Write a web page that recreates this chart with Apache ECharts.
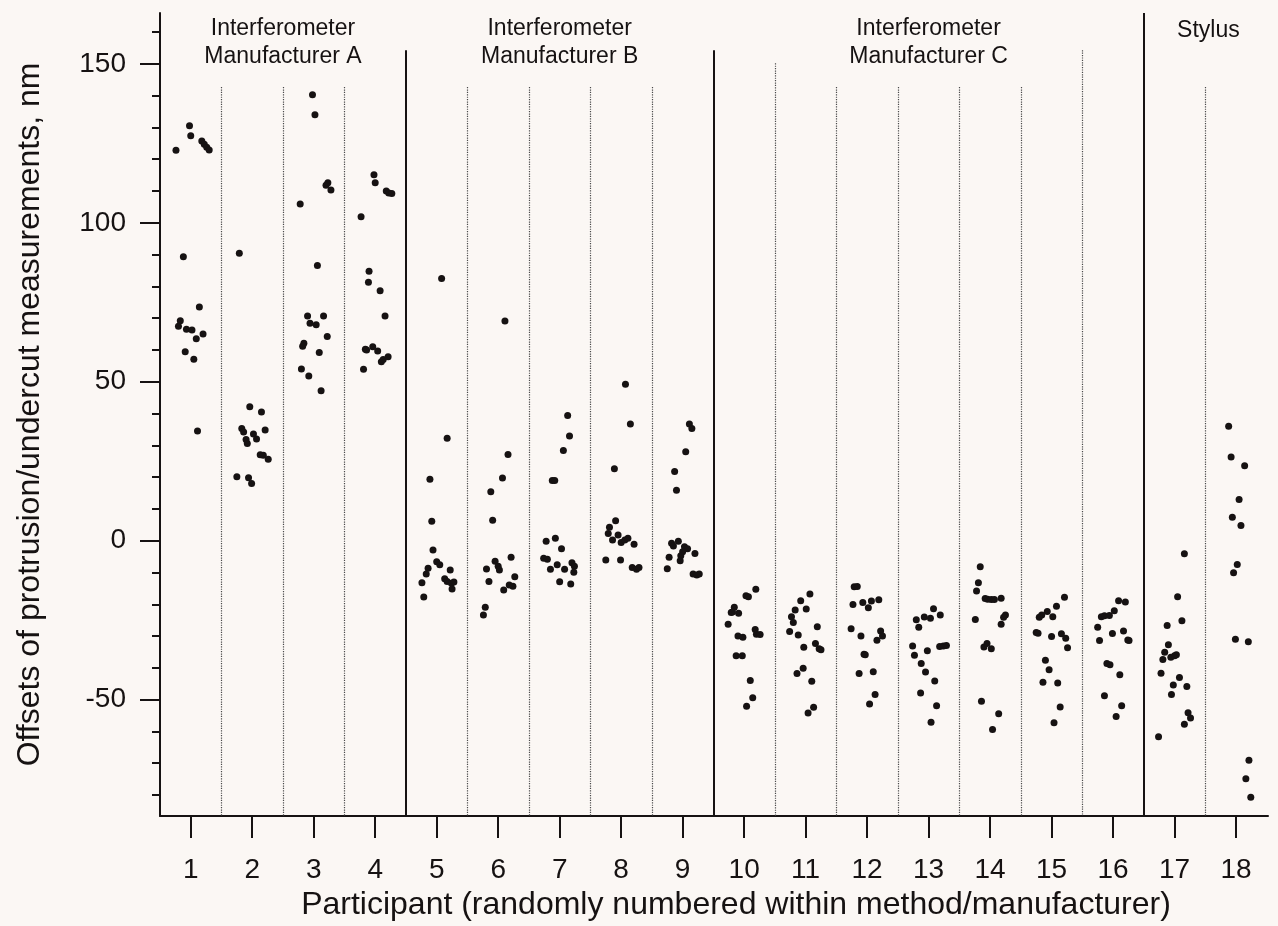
<!DOCTYPE html>
<html>
<head>
<meta charset="utf-8">
<script src="https://cdn.jsdelivr.net/npm/echarts@6/dist/echarts.min.js"></script>
<style>
  html, body { margin: 0; padding: 0; background: #fbf7f4; }
  #chart { width: 1278px; height: 926px; }
</style>
</head>
<body>
<div id="chart"></div>
<script>
// tick values
const participants = [1, 2, 3, 4, 5, 6, 7, 8, 9, 10, 11, 12, 13, 14, 15, 16, 17, 18];
const yTicks = [-50, 0, 50, 100, 150];
const Y_MIN = -86.6;
const Y_MAX = 166;

// measurements per participant: [participant + jitter, offset in nm]
const p1 = [[0.76, 122.8], [0.98, 130.5], [1.0, 127.4], [1.18, 125.7], [1.22, 124.7], [1.26, 123.8], [1.3, 122.9], [0.88, 89.3], [1.14, 73.5], [0.83, 69.2], [0.8, 67.5], [0.93, 66.5], [1.02, 66.3], [1.2, 65.0], [1.09, 63.5], [0.91, 59.4], [1.05, 57.1], [1.11, 34.5]];
const p2 = [[1.79, 90.4], [1.96, 42.1], [2.15, 40.5], [1.83, 35.3], [1.86, 34.2], [2.21, 34.8], [1.9, 31.8], [1.92, 30.6], [2.02, 33.6], [2.07, 32.0], [2.13, 27.0], [2.18, 26.9], [2.26, 25.6], [1.75, 20.1], [1.94, 19.8], [1.99, 18.0]];
const p3 = [[2.98, 140.3], [3.02, 134.0], [3.23, 112.6], [3.2, 111.8], [3.28, 110.3], [2.78, 105.9], [3.06, 86.6], [2.9, 70.7], [3.16, 70.7], [2.94, 68.4], [3.04, 67.9], [3.22, 64.2], [2.84, 62.1], [2.82, 61.2], [3.09, 59.2], [2.8, 54.0], [2.92, 51.8], [3.12, 47.2]];
const p4 = [[3.98, 115.1], [4.0, 112.6], [4.18, 110.0], [4.22, 109.4], [4.27, 109.2], [3.77, 101.9], [3.9, 84.8], [3.89, 81.3], [4.08, 78.6], [4.16, 70.7], [3.81, 53.9], [3.84, 60.2], [3.86, 60.0], [3.96, 61.0], [4.04, 59.7], [4.1, 56.3], [4.13, 57.0], [4.21, 57.9]];
const p5 = [[5.08, 82.5], [5.17, 32.2], [4.89, 19.3], [4.92, 6.1], [4.94, -2.9], [5.0, -6.6], [5.05, -7.6], [4.86, -8.7], [4.83, -10.5], [4.76, -13.2], [4.79, -17.7], [5.22, -9.2], [5.13, -12.0], [5.17, -12.8], [5.24, -13.4], [5.28, -13.0], [5.25, -15.2]];
const p6 = [[6.11, 69.1], [6.16, 27.1], [6.07, 19.7], [5.88, 15.4], [5.91, 6.4], [6.21, -5.2], [5.95, -6.5], [6.0, -8.0], [6.02, -9.2], [5.81, -8.9], [5.85, -12.8], [6.27, -11.3], [6.18, -13.9], [6.24, -14.3], [6.09, -15.5], [5.79, -20.9], [5.76, -23.4]];
const p7 = [[7.13, 39.4], [7.16, 32.9], [7.06, 28.4], [6.88, 18.9], [6.92, 18.9], [6.78, -0.2], [6.93, 0.8], [7.03, -2.5], [6.74, -5.5], [6.8, -5.8], [6.96, -7.6], [6.85, -9.0], [7.08, -9.0], [7.2, -6.9], [7.24, -8.0], [7.23, -9.9], [7.0, -12.9], [7.18, -13.6]];
const p8 = [[8.07, 49.2], [8.15, 36.7], [7.89, 22.6], [7.91, 6.3], [7.81, 4.2], [7.79, 2.3], [7.95, 1.8], [7.86, 0.2], [8.0, -0.6], [8.06, 0.2], [8.11, 0.8], [8.21, -1.1], [7.75, -6.1], [7.99, -6.1], [8.18, -8.4], [8.25, -9.0], [8.29, -8.4]];
const p9 = [[9.11, 36.7], [9.15, 35.3], [9.05, 28.0], [8.87, 21.8], [8.9, 15.9], [8.82, -0.8], [8.85, -1.7], [8.93, -0.2], [9.03, -1.9], [9.08, -2.5], [9.0, -3.5], [8.97, -4.7], [9.2, -4.0], [8.78, -5.2], [8.96, -6.3], [8.75, -8.8], [9.17, -10.5], [9.23, -10.8], [9.27, -10.5]];
const p10 = [[10.19, -15.3], [10.03, -17.3], [10.07, -17.6], [9.84, -20.9], [9.79, -22.6], [9.81, -22.4], [9.91, -22.8], [9.74, -26.3], [10.18, -27.9], [10.2, -29.4], [10.26, -29.5], [9.9, -30.0], [9.98, -30.4], [9.87, -36.2], [9.97, -36.2], [10.1, -44.0], [10.14, -49.4], [10.04, -52.1]];
const p11 = [[11.07, -16.8], [10.92, -18.9], [11.01, -21.5], [10.83, -21.8], [10.77, -23.9], [10.8, -25.7], [10.74, -28.6], [10.88, -29.7], [11.19, -27.1], [11.16, -32.3], [11.22, -34.0], [11.25, -34.3], [10.97, -33.5], [10.96, -40.1], [10.86, -41.8], [11.1, -44.2], [11.13, -52.4], [11.04, -54.2]];
const p12 = [[11.79, -14.5], [11.84, -14.4], [11.77, -20.1], [11.93, -19.4], [12.02, -21.1], [12.07, -19.0], [12.19, -18.6], [11.74, -27.7], [11.9, -30.0], [12.22, -28.4], [12.25, -30.0], [12.16, -31.3], [11.95, -35.7], [11.97, -35.9], [11.87, -41.8], [12.1, -41.2], [12.13, -48.4], [12.04, -51.4]];
const p13 = [[13.08, -21.4], [12.8, -24.9], [12.93, -24.0], [13.03, -24.4], [13.19, -23.4], [12.84, -27.2], [12.74, -33.1], [12.77, -36.0], [12.98, -34.6], [13.18, -33.3], [13.24, -33.1], [13.29, -33.0], [12.88, -38.6], [12.95, -41.3], [13.1, -44.1], [12.87, -47.9], [13.13, -51.9], [13.04, -57.1]];
const p14 = [[13.84, -8.2], [13.81, -13.2], [13.78, -15.8], [13.92, -18.2], [13.96, -18.4], [14.02, -18.5], [14.07, -18.5], [14.18, -18.1], [13.76, -24.8], [14.25, -23.4], [14.22, -24.1], [14.18, -26.3], [13.9, -33.4], [13.95, -32.3], [14.02, -34.0], [13.86, -50.5], [14.14, -54.4], [14.04, -59.4]];
const p15 = [[15.21, -17.8], [15.08, -20.6], [14.93, -22.3], [15.02, -23.9], [14.84, -23.4], [14.8, -24.1], [14.75, -28.9], [14.78, -29.1], [15.0, -30.1], [15.16, -29.3], [15.23, -30.7], [15.26, -33.7], [14.9, -37.6], [14.96, -40.6], [14.86, -44.5], [15.1, -44.8], [15.14, -52.3], [15.04, -57.3]];
const p16 = [[16.09, -18.9], [16.2, -19.3], [16.02, -22.0], [15.81, -23.9], [15.86, -23.6], [15.94, -23.5], [15.75, -27.2], [15.78, -31.4], [15.99, -29.2], [16.17, -28.4], [16.24, -31.2], [16.26, -31.4], [15.9, -38.6], [15.95, -39.0], [16.11, -42.2], [15.86, -48.8], [16.14, -51.9], [16.05, -55.3]];
const p17 = [[17.16, -4.1], [17.05, -17.6], [17.12, -25.2], [16.88, -26.7], [16.9, -32.7], [16.84, -35.1], [16.81, -37.4], [16.94, -36.7], [17.0, -36.2], [17.03, -35.9], [16.78, -41.7], [17.08, -43.0], [16.98, -45.4], [17.2, -45.9], [16.95, -48.4], [17.22, -54.1], [17.26, -55.8], [17.16, -57.7], [16.74, -61.7]];
const p18 = [[17.88, 36.0], [17.92, 26.3], [18.14, 23.6], [18.05, 13.0], [17.94, 7.4], [18.08, 4.8], [18.02, -7.5], [17.96, -10.1], [17.99, -31.0], [18.2, -31.8], [18.21, -69.1], [18.16, -74.9], [18.24, -80.7]];
const allPoints = [p1, p2, p3, p4, p5, p6, p7, p8, p9, p10, p11, p12, p13, p14, p15, p16, p17, p18];

// method / manufacturer groups
const groupNames = ['Interferometer\nManufacturer A', 'Interferometer\nManufacturer B', 'Interferometer\nManufacturer C', 'Stylus'];
const groupCenters = [2.5, 7, 13, 17.55];
const groupLabelY = [156.6, 156.6, 156.6, 160.6];

// separators between groups (solid) and between participants (dotted)
const solidSeps = [4.5, 9.5, 16.5];
const solidTops = [154.3, 154.3, Y_MAX];
const dottedSeps = [1.5, 2.5, 3.5, 5.5, 6.5, 7.5, 8.5, 10.5, 11.5, 12.5, 13.5, 14.5, 15.5, 17.5];
const dottedTops = [142.7, 142.7, 142.7, 142.7, 142.7, 142.7, 142.7, 150.2, 142.7, 142.7, 142.7, 142.7, 154.3, 142.7];

const ink = '#161212';
const font = '"Liberation Sans", Arial, sans-serif';

const chart = echarts.init(document.getElementById('chart'));

const sepLines = [
  ...solidSeps.map((x, i) => [
    { coord: [x, solidTops[i]], lineStyle: { type: 'solid', width: 2, color: ink } },
    { coord: [x, Y_MIN] },
  ]),
  ...dottedSeps.map((x, i) => [
    { coord: [x, dottedTops[i]], lineStyle: { type: 'dotted', width: 1.2, color: '#4a4a4a' } },
    { coord: [x, Y_MIN] },
  ]),
];

chart.setOption({
  backgroundColor: '#fbf7f4',
  animation: false,
  textStyle: { fontFamily: font },
  grid: { left: 160, right: 10, top: 13, bottom: 110, containLabel: false },
  xAxis: {
    type: 'value',
    min: 0.5,
    max: 18.52,
    axisLine: { show: true, onZero: false, lineStyle: { color: ink, width: 2 } },
    axisTick: { show: true, customValues: participants, length: 22, lineStyle: { color: ink, width: 2 } },
    axisLabel: { customValues: participants, margin: 40, fontSize: 28, color: ink, fontFamily: font },
    splitLine: { show: false },
    name: 'Participant (randomly numbered within method/manufacturer)',
    nameLocation: 'middle',
    nameGap: 70,
    nameTextStyle: { fontSize: 32, color: ink, fontFamily: font, padding: [0, 0, 0, 44] },
  },
  yAxis: {
    type: 'value',
    min: Y_MIN,
    max: Y_MAX,
    splitNumber: 5,
    axisLine: { show: true, onZero: false, lineStyle: { color: ink, width: 2 } },
    axisTick: { show: true, customValues: yTicks, length: 20, lineStyle: { color: ink, width: 2 } },
    minorTick: { show: true, splitNumber: 5, length: 8, lineStyle: { color: ink, width: 2 } },
    axisLabel: { customValues: yTicks, margin: 34, fontSize: 28, color: ink, fontFamily: font },
    splitLine: { show: false },
    minorSplitLine: { show: false },
    name: 'Offsets of protrusion/undercut measurements, nm',
    nameLocation: 'middle',
    nameGap: 114,
    nameTextStyle: { fontSize: 32, color: ink, fontFamily: font },
  },
  series: [
    {
      type: 'scatter',
      data: allPoints.flat(),
      symbol: 'circle',
      symbolSize: 7,
      itemStyle: { color: ink, opacity: 1 },
      silent: true,
      markLine: {
        silent: true,
        symbol: ['none', 'none'],
        label: { show: false },
        data: sepLines,
      },
    },
    {
      type: 'scatter',
      symbolSize: 0,
      silent: true,
      itemStyle: { opacity: 1 },
      data: groupNames.map((name, i) => ({ name, value: [groupCenters[i], groupLabelY[i]] })),
      label: {
        show: true,
        position: 'inside',
        formatter: '{b}',
        fontSize: 23,
        lineHeight: 28,
        color: ink,
        opacity: 1,
        fontFamily: font,
        align: 'center',
      },
    },
  ],
});
</script>
</body>
</html>
